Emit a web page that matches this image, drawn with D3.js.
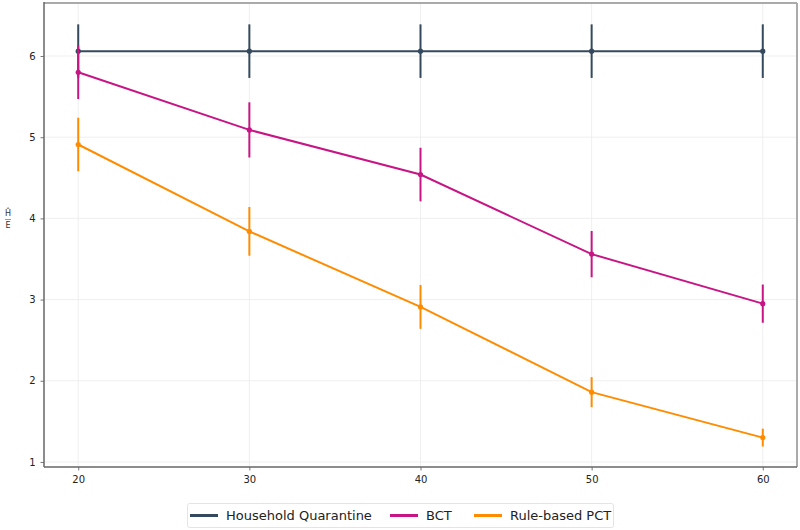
<!DOCTYPE html>
<html><head><meta charset="utf-8">
<script src="https://cdn.jsdelivr.net/npm/d3@7"></script>
<style>body{margin:0;background:#fff}svg{display:block;font-family:"DejaVu Sans",sans-serif}</style>
</head><body><svg id="c" width="800" height="530"></svg>
<script>
const xValues = [20, 30, 40, 50, 60];
const seriesNames = ["Household Quarantine", "BCT", "Rule-based PCT"];
const hqMean = [6.06, 6.06, 6.06, 6.06, 6.06];
const hqErr = [0.33, 0.33, 0.33, 0.33, 0.33];
const bctMean = [5.80, 5.09, 4.54, 3.56, 2.95];
const bctErr = [0.33, 0.34, 0.33, 0.285, 0.235];
const pctMean = [4.91, 3.84, 2.91, 1.86, 1.30];
const pctErr = [0.33, 0.30, 0.27, 0.185, 0.11];
const yTicks = [1, 2, 3, 4, 5, 6];
const colors = ["#34495e", "#c71585", "#ff8c00"];

const svg = d3.select("#c");
const L = 44, R = 797, T = 3, B = 467;
const x = d3.scaleLinear().domain([18, 62]).range([L, R]);
const y = d3.scaleLinear().domain([0.938, 6.653]).range([B, T]);

// grid
const g = svg.append("g");
g.selectAll(".gx").data(xValues).enter().append("line")
  .attr("x1", d => x(d)).attr("x2", d => x(d)).attr("y1", T).attr("y2", B)
  .attr("stroke", "#ebebeb").attr("stroke-width", 0.8);
g.selectAll(".gy").data(yTicks).enter().append("line")
  .attr("x1", L).attr("x2", R).attr("y1", d => y(d)).attr("y2", d => y(d))
  .attr("stroke", "#ebebeb").attr("stroke-width", 0.8);

// axes
const xAxis = svg.append("g").attr("transform", `translate(0,${B})`)
  .call(d3.axisBottom(x).tickValues(xValues).tickSize(3.5).tickPadding(5).tickFormat(d3.format("d")));
const yAxis = svg.append("g").attr("transform", `translate(${L},0)`)
  .call(d3.axisLeft(y).tickValues(yTicks).tickSize(3.5).tickPadding(5).tickFormat(d3.format("d")));
[xAxis, yAxis].forEach(a => {
  a.select(".domain").remove();
  a.selectAll(".tick line").attr("stroke", "#555").attr("stroke-width", 0.8);
  a.selectAll(".tick text").attr("fill", "#222").style("font-size", "10px").style("font-family", "DejaVu Sans");
});

// frame
svg.append("line").attr("x1", L).attr("x2", R).attr("y1", T).attr("y2", T).attr("stroke", "#aaa").attr("stroke-width", 2);
svg.append("line").attr("x1", R).attr("x2", R).attr("y1", T).attr("y2", B).attr("stroke", "#aaa").attr("stroke-width", 2);
svg.append("line").attr("x1", L).attr("x2", L).attr("y1", T - 1).attr("y2", B).attr("stroke", "#666").attr("stroke-width", 1.5);
svg.append("line").attr("x1", L).attr("x2", R).attr("y1", B).attr("y2", B).attr("stroke", "#666").attr("stroke-width", 1.5);

// series
const series = [[hqMean, hqErr], [bctMean, bctErr], [pctMean, pctErr]];
const line = d3.line().x(d => x(d.x)).y(d => y(d.m));
series.forEach(([m, e], i) => {
  const data = xValues.map((xv, j) => ({x: xv, m: m[j], e: e[j]}));
  const sg = svg.append("g");
  sg.append("path").datum(data).attr("d", line).attr("fill", "none")
    .attr("stroke", colors[i]).attr("stroke-width", 2);
  sg.selectAll(".eb").data(data).enter().append("line")
    .attr("x1", d => x(d.x)).attr("x2", d => x(d.x))
    .attr("y1", d => y(d.m + d.e)).attr("y2", d => y(d.m - d.e))
    .attr("stroke", colors[i]).attr("stroke-width", 2);
  sg.selectAll(".pt").data(data).enter().append("circle")
    .attr("cx", d => x(d.x)).attr("cy", d => y(d.m)).attr("r", 2.6)
    .attr("fill", colors[i]);
});

// y label (fraction)
const yl = svg.append("g").attr("fill", "#333").style("font-size", "8px");
yl.append("text").attr("x", 8).attr("y", 216).attr("text-anchor", "middle").text("Ĥ");
yl.append("line").attr("x1", 5).attr("x2", 11).attr("y1", 219.5).attr("y2", 219.5).attr("stroke", "#555").attr("stroke-width", 0.6);
yl.append("text").attr("x", 8).attr("y", 228).attr("text-anchor", "middle").text("E");

// legend
const lg = svg.append("g");
lg.append("rect").attr("x", 187.5).attr("y", 503.5).attr("width", 426).attr("height", 24)
  .attr("rx", 2).attr("fill", "#fff").attr("stroke", "#ddd").attr("stroke-width", 0.8);
const lx = [190, 390, 474];
seriesNames.forEach((n, i) => {
  lg.append("line").attr("x1", lx[i]).attr("x2", lx[i] + 28).attr("y1", 515.5).attr("y2", 515.5)
    .attr("stroke", colors[i]).attr("stroke-width", 3);
  lg.append("text").attr("x", lx[i] + 36).attr("y", 520).attr("fill", "#222")
    .style("font-size", "13px").text(n);
});
</script></body></html>
